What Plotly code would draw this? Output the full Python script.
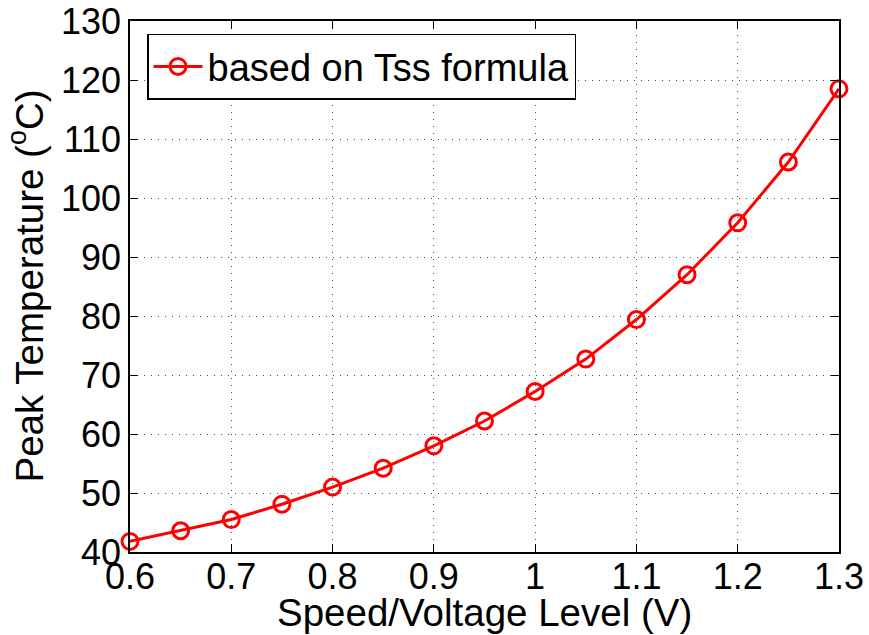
import plotly.graph_objects as go

# Speed/voltage levels and the peak temperature predicted by the Tss formula
voltage = [0.6, 0.65, 0.7, 0.75, 0.8, 0.85, 0.9, 0.95, 1.0, 1.05, 1.1, 1.15, 1.2, 1.25, 1.3]
peak_temp = [41.8, 43.6, 45.5, 48.1, 51.0, 54.2, 58.0, 62.2, 67.2, 72.7, 79.4, 87.0, 95.8, 106.1, 118.5]

x_ticks = [0.6, 0.7, 0.8, 0.9, 1.0, 1.1, 1.2, 1.3]
x_tick_text = ["0.6", "0.7", "0.8", "0.9", "1", "1.1", "1.2", "1.3"]
y_ticks = [40, 50, 60, 70, 80, 90, 100, 110, 120, 130]

FONT = "Liberation Sans, Arial, sans-serif"

fig = go.Figure()
fig.add_trace(go.Scatter(
    x=voltage, y=peak_temp,
    mode="lines+markers",
    name="based on Tss formula",
    line=dict(color="#ff0000", width=3),
    marker=dict(symbol="circle-open", size=16, color="#ff0000", line=dict(width=3, color="#ff0000")),
    cliponaxis=False,
))

axis_common = dict(
    showline=True, linecolor="black", linewidth=1.5, mirror="ticks",
    ticks="inside", ticklen=8, tickwidth=1, tickcolor="black",
    showgrid=True, gridcolor="rgba(0,0,0,0.7)", griddash="1px,6px", gridwidth=1,
    zeroline=False, automargin=False, ticklabeloverflow="allow",
    tickfont=dict(family=FONT, size=36, color="black"),
)

fig.update_xaxes(
    range=[0.6, 1.3], tickvals=x_ticks, ticktext=x_tick_text,
    ticklabelstandoff=-8,
    **axis_common,
)
fig.update_yaxes(
    range=[40, 130], tickvals=y_ticks,
    ticklabelstandoff=0,
    **axis_common,
)

# Axis titles as annotations for precise placement
fig.add_annotation(
    text="Speed/Voltage Level (V)", xref="paper", yref="paper",
    x=0.5, y=0, xanchor="center", yanchor="top", yshift=-37,
    showarrow=False, font=dict(family=FONT, size=38.5, color="black"),
)
fig.add_annotation(
    text="Peak Temperature (<sup>o</sup>C)", xref="paper", yref="paper",
    x=0, y=0.5, xanchor="right", yanchor="middle", xshift=-78, textangle=-90,
    showarrow=False, font=dict(family=FONT, size=38.5, color="black"),
)

fig.update_layout(
    width=869, height=635,
    margin=dict(l=130, r=30, t=21, b=83),
    paper_bgcolor="white", plot_bgcolor="white",
    showlegend=True,
    legend=dict(
        x=0.024, y=0.976, xanchor="left", yanchor="top",
        bgcolor="white", bordercolor="black", borderwidth=1.5,
        font=dict(family=FONT, size=38, color="black"),
        itemwidth=49, tracegroupgap=0,
    ),
)

fig.write_html("out.html")
